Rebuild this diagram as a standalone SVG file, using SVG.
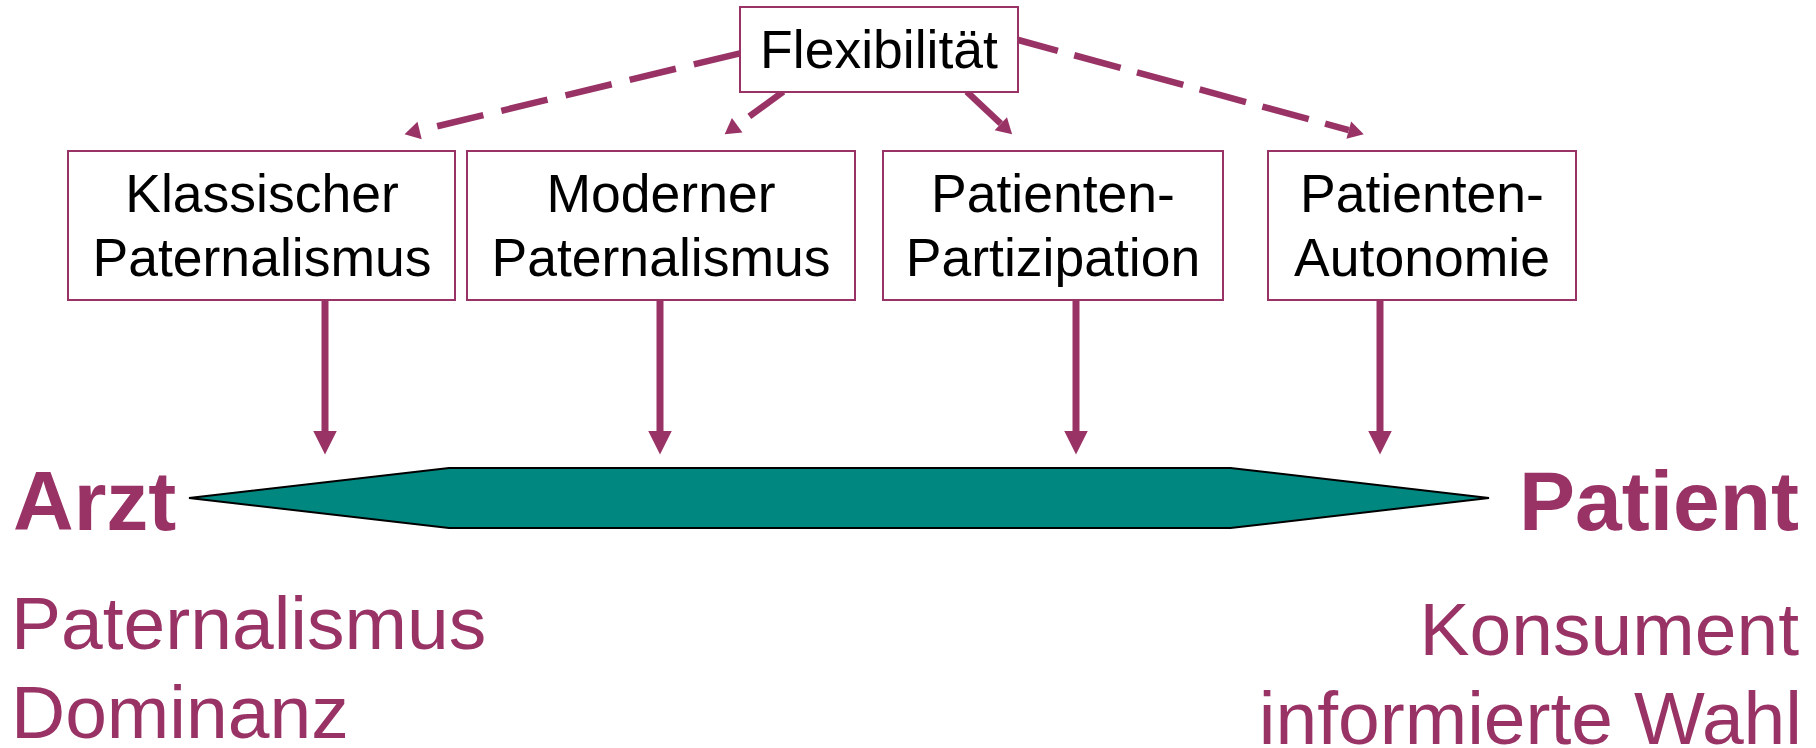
<svg xmlns="http://www.w3.org/2000/svg" width="1816" height="748" viewBox="0 0 1816 748">
<style>
.box{fill:#fff;stroke:#993366;stroke-width:2}
.bt{font-family:"Liberation Sans",Arial,sans-serif;font-size:53.5px;fill:#000;text-anchor:middle}
.dash{fill:none;stroke:#993366;stroke-width:6.5;stroke-dasharray:47.5 18.5}
.vert{fill:none;stroke:#993366;stroke-width:7}
.big{font-family:"Liberation Sans",Arial,sans-serif;font-size:84px;font-weight:bold;fill:#993366}
.sub{font-family:"Liberation Sans",Arial,sans-serif;font-size:75px;fill:#993366}
</style>
<defs>
<marker id="ah" markerUnits="userSpaceOnUse" markerWidth="16" markerHeight="18" refX="0" refY="9" orient="auto" overflow="visible">
<path d="M0,0 L15.5,9 L0,18 Z" fill="#993366"/>
</marker>
<marker id="av" markerUnits="userSpaceOnUse" markerWidth="24" markerHeight="24" refX="0" refY="11.75" orient="auto" overflow="visible">
<path d="M0,0 L23.5,11.75 L0,23.5 Z" fill="#993366"/>
</marker>
</defs>
<g id="connectors">
<path class="dash" d="M740,53.3 L419.6,130.5" marker-end="url(#ah)"/>
<path class="dash" style="stroke-dasharray:42 18" d="M783.3,91.7 L737.2,125.2" marker-end="url(#ah)"/>
<path class="dash" d="M966.7,91.7 L1000.8,123.7" marker-end="url(#ah)"/>
<path class="dash" style="stroke-dasharray:48 17;stroke-dashoffset:7" d="M1018.3,40 L1348.8,130.1" marker-end="url(#ah)"/>
<path class="vert" d="M325,301 L325,431" marker-end="url(#av)"/>
<path class="vert" d="M660,301 L660,431" marker-end="url(#av)"/>
<path class="vert" d="M1076,301 L1076,431" marker-end="url(#av)"/>
<path class="vert" d="M1380,301 L1380,431" marker-end="url(#av)"/>
</g>
<g id="flex">
<rect class="box" x="740" y="7" width="278" height="85"/>
<text class="bt" x="879" y="68">Flexibilität</text>
</g>
<g id="klassisch">
<rect class="box" x="68" y="151" width="387" height="149"/>
<text class="bt" x="262" y="212">Klassischer</text>
<text class="bt" x="262" y="276">Paternalismus</text>
</g>
<g id="modern">
<rect class="box" x="467" y="151" width="388" height="149"/>
<text class="bt" x="661" y="212">Moderner</text>
<text class="bt" x="661" y="276">Paternalismus</text>
</g>
<g id="partizipation">
<rect class="box" x="883" y="151" width="340" height="149"/>
<text class="bt" x="1053" y="212">Patienten-</text>
<text class="bt" x="1053" y="276">Partizipation</text>
</g>
<g id="autonomie">
<rect class="box" x="1268" y="151" width="308" height="149"/>
<text class="bt" x="1422" y="212">Patienten-</text>
<text class="bt" x="1422" y="276">Autonomie</text>
</g>
<g id="scale">
<polygon points="189,498 449,468 1230.5,468 1489,498 1230.5,528 449,528" fill="#008780" stroke="#000" stroke-width="2" stroke-linejoin="miter"/>
</g>
<g id="arzt">
<text class="big" x="13" y="530">Arzt</text>
<text class="sub" x="11" y="649">Paternalismus</text>
<text class="sub" x="11" y="738">Dominanz</text>
</g>
<g id="patient">
<text class="big" x="1799" y="530" text-anchor="end">Patient</text>
<text class="sub" x="1799" y="655" text-anchor="end">Konsument</text>
<text class="sub" x="1802" y="744" text-anchor="end">informierte Wahl</text>
</g>
</svg>
